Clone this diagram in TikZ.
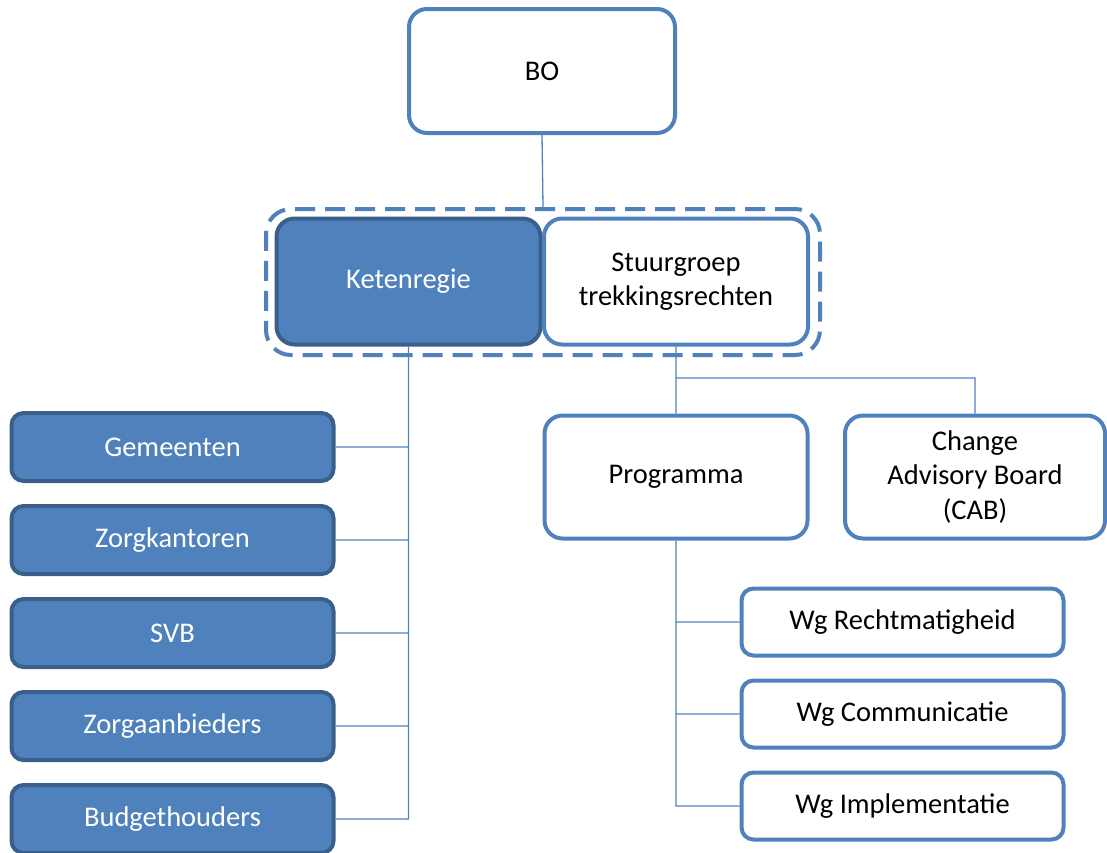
\documentclass[tikz,border=0pt]{standalone}
\usepackage{fontspec}
\setmainfont{Carlito}
\usetikzlibrary{positioning}
\definecolor{orgblue}{HTML}{4F81BD}
\definecolor{orgdark}{HTML}{3A5F8B}
\tikzset{
box/.style={draw=orgblue, line width=4pt, rounded corners=18pt, fill=white, align=center, font=\fontsize{28.5}{34.5}\selectfont}, % white boxes
filledbox/.style={box, fill=orgblue, draw=orgdark, text=white}, % blue boxes
memberbox/.style={filledbox, rounded corners=12pt, minimum width=322pt, minimum height=68pt},
wgbox/.style={box, rounded corners=12pt, minimum width=322pt, minimum height=67pt},
link/.style={draw=orgblue, line width=1.3pt}, % connectors
node distance=21pt,
}

\begin{document}
\begin{tikzpicture}[x=1pt, y=1pt]
    \useasboundingbox (0,0) rectangle (1107,-852);
    \node[box, minimum width=266pt, minimum height=124pt] (bo) at (542,-71) {BO};
    \node[draw=orgblue, line width=4pt, dash pattern=on 20pt off 10pt, rounded corners=25pt, minimum width=554pt, minimum height=146pt] (grp) at (543,-282) {};
    \node[filledbox, minimum width=264pt, minimum height=126pt] (ket) at (408.5,-281.5) {Ketenregie};
    \node[box, minimum width=264pt, minimum height=126pt] (stuur) at (676,-281.5) {Stuurgroep\\trekkingsrechten};
    \node[memberbox] (gem) at (172.5,-447) {Gemeenten};
    \node[memberbox, below=of gem] (zk) {Zorgkantoren};
    \node[memberbox, below=of zk] (svb) {SVB};
    \node[memberbox, below=of svb] (za) {Zorgaanbieders};
    \node[memberbox, below=of za] (bh) {Budgethouders};
    \node[box, minimum width=263pt, minimum height=123pt] (prog) at (676,-477) {Programma};
    \node[box, minimum width=260pt, minimum height=123pt] (cab) at (975,-477) {Change\\Advisory Board\\(CAB)};
    \node[wgbox] (wg1) at (902.5,-622) {Wg Rechtmatigheid};
    \node[wgbox, below=of wg1] (wg2) {Wg Communicatie};
    \node[wgbox, below=of wg2] (wg3) {Wg Implementatie};
    \coordinate (split) at (676,-378);
    \draw[link]
    (bo.south) -- (grp.north)
    (ket.south) |- (gem.east)
    (ket.south) |- (zk.east)
    (ket.south) |- (svb.east)
    (ket.south) |- (za.east)
    (ket.south) |- (bh.east)
    (stuur.south) -- (split) -| (cab.north)
    (split) -- (prog.north)
    (prog.south) |- (wg1.west)
    (prog.south) |- (wg2.west)
    (prog.south) |- (wg3.west);
\end{tikzpicture}
\end{document}
